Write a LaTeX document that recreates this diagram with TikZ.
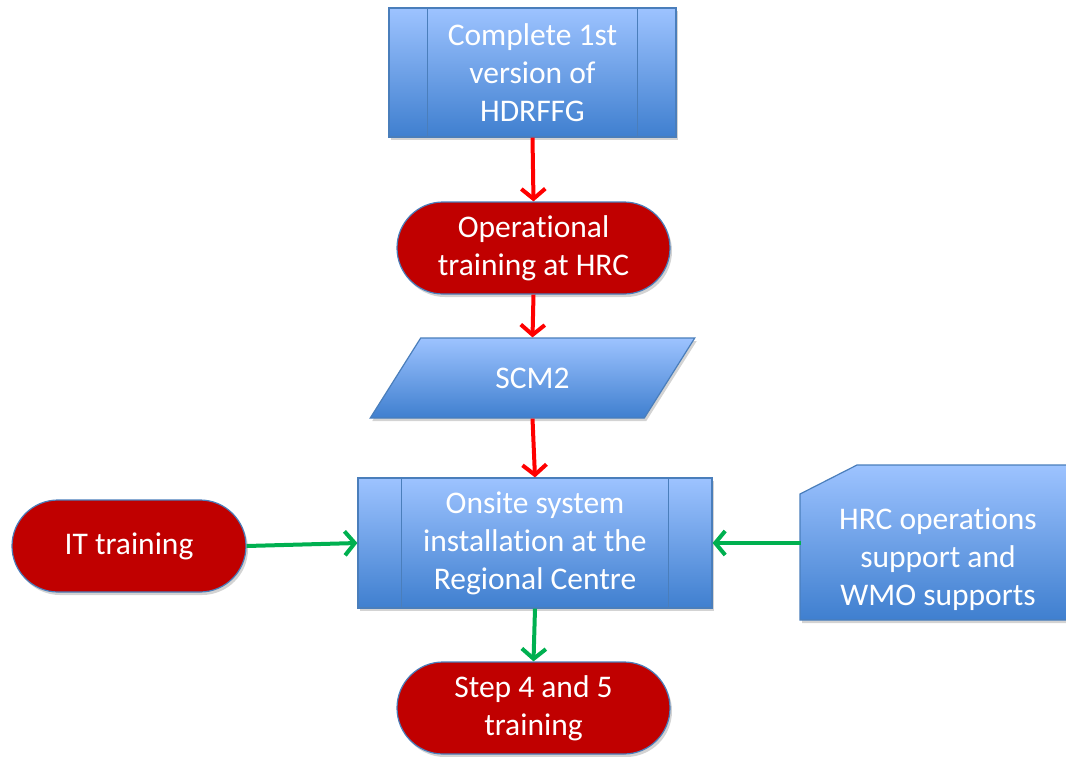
\documentclass[tikz,border=0pt]{standalone}
\usepackage{fontspec}
\setmainfont{Carlito}[Ligatures=NoCommon]
\usetikzlibrary{shapes.geometric,shadows,arrows.meta,calc}

\definecolor{boxtop}{HTML}{9DC3FF}
\definecolor{boxbot}{HTML}{3F7FCF}
\definecolor{boxline}{HTML}{4A7EBB}
\definecolor{termred}{HTML}{C00000}
\definecolor{flowred}{HTML}{FF0000}
\definecolor{flowgreen}{HTML}{00B050}

\tikzstyle{lbl} = [font=\fontsize{31.5}{38}\selectfont, text=white, align=center]
\tikzstyle{shade} = [drop shadow={opacity=0.35,shadow xshift=2pt,shadow yshift=-3pt}]
\tikzstyle{bluefill} = [draw=boxline, line width=1.2pt, top color=boxtop, bottom color=boxbot, shade]
\tikzstyle{procbox} = [rectangle, bluefill, lbl, inner sep=0pt]
\tikzstyle{databox} = [trapezium, trapezium left angle=51, trapezium right angle=129, trapezium stretches=true, bluefill, lbl, inner sep=0pt]
\tikzstyle{terminal} = [rectangle, rounded corners=46pt, draw=boxline, line width=1.2pt, fill=termred, shade, lbl, inner sep=0pt, minimum height=92pt]
\tikzstyle{divider} = [draw=boxline, line width=1pt]
\tikzstyle{redflow} = [draw=flowred, line width=4pt, -{Straight Barb[length=10pt,width=24pt]}]
\tikzstyle{greenflow} = [draw=flowgreen, line width=4pt, -{Straight Barb[length=10pt,width=24pt]}]

\begin{document}
\begin{tikzpicture}[x=1pt,y=-1pt]
  \useasboundingbox (0,0) rectangle (1066,756);

  %nodes
  \node[procbox, minimum width=287pt, minimum height=129pt] (hdrffg) at (532.5,72.5) {Complete 1st\\version of\\HDRFFG};
  \node[terminal, minimum width=273pt] (optrain) at (533.5,248) {Operational\\training at HRC};
  \node[databox, minimum width=325pt, minimum height=80pt] (scm) at (532.5,378) {SCM2};
  \node[procbox, minimum width=354pt, minimum height=130pt] (onsite) at (535,543) {Onsite system\\installation at the\\Regional Centre};
  \node[terminal, minimum width=234pt] (ittrain) at (129,546) {IT training};
  \node[terminal, minimum width=273pt] (steps) at (533.5,708) {Step 4 and 5\\training};

  % card shape on the right
  \path[bluefill] (800,494) -- (857,465) -- (1072,465) -- (1072,620) -- (800,620) -- cycle;
  \node[lbl, minimum width=274pt, inner sep=0pt] (hrc) at (938,559) {HRC operations\\support and\\WMO supports};

  \foreach \boxname/\inset in {hdrffg/39, onsite/44}
  {
    \draw[divider] ($(\boxname.north west)+(\inset,0)$) -- ($(\boxname.south west)+(\inset,0)$);
    \draw[divider] ($(\boxname.north east)+(-\inset,0)$) -- ($(\boxname.south east)+(-\inset,0)$);
  };

  %edges
  \foreach \startnode/\endnode in {hdrffg/optrain, optrain/scm, scm/onsite}
  {
    \draw[redflow] (\startnode.south) -- (\endnode.north);
  };
  \draw[greenflow] (ittrain.east) -- (onsite.west);
  \draw[greenflow] (hrc.west |- onsite.east) -- (onsite.east);
  \draw[greenflow] (onsite.south) -- (steps.north);
\end{tikzpicture}
\end{document}
